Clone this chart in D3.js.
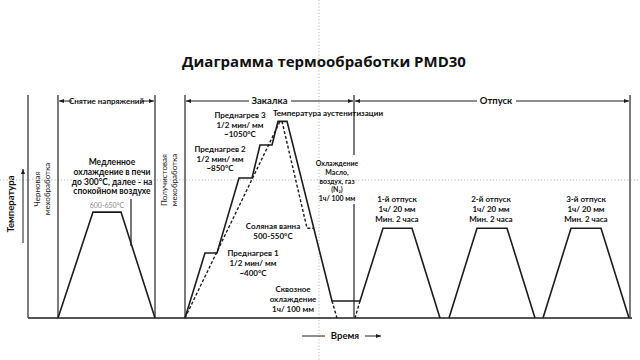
<!DOCTYPE html>
<html>
<head>
<meta charset="utf-8">
<script src="https://cdn.jsdelivr.net/npm/d3@7"></script>
<style>
  html, body { margin: 0; padding: 0; background: #fff; }
  svg { display: block; }
  text { font-family: Lato, "Open Sans", sans-serif; font-weight: 700; fill: #111; }
</style>
</head>
<body>
<svg id="chart" width="640" height="360"></svg>
<script>
// time is in schematic units, temperature in schematic °C
const title = "Диаграмма термообработки PMD30"
const axisLabels = ["Температура", "Время"]

const phaseNames = ["Снятие напряжений", "Закалка", "Отпуск"]
const phaseBounds = [[15, 63.5], [78.5, 163], [163, 301]]
const machining = [["Черновая", "мехобработка"], ["Получистовая", "мехобработка"]]
const machiningAt = [7.5, 71]

const stressRelief = [[15, 0], [32.5, 560], [46.5, 560], [63.5, 0]]
const hardening = [[78.5, 0], [88.5, 344], [94.5, 344], [105.5, 740], [112, 740], [116, 915], [122, 915],
    [125, 1040], [129.5, 1040], [152, 90], [166, 90], [177.5, 475], [192, 475], [206, 0]]
const temper2 = [[210.5, 0], [224.5, 475], [239.5, 475], [253.5, 0]]
const temper3 = [[257.5, 0], [271.5, 475], [286.5, 475], [300.5, 0]]
const directHeat = [[78.5, 0], [126, 1040]]
const directCool = [[127, 1040], [139.5, 475], [142.5, 475]]
const throughCool1 = [[152, 90], [154.5, 0]]
const throughCool2 = [[166, 90], [163.5, 0]]

const refTemp = 730
const refTime = 145.5

const preheat1 = ["Преднагрев 1", "1/2 мин/ мм", "~400°C"]
const preheat2 = ["Преднагрев 2", "1/2 мин/ мм", "~850°C"]
const preheat3 = ["Преднагрев 3", "1/2 мин/ мм", "~1050°C"]
const austenite = ["Температура аустенитизации"]
const saltBath = ["Соляная ванна", "500-550°C"]
const throughCool = ["Сквозное", "охлаждение", "1ч/ 100 мм"]
const quench = ["Охлаждение", "Масло,", "воздух, газ", "(N₂)", "1ч/ 100 мм"]
const slowCool = ["Медленное", "охлаждение в печи", "до 300°C, далее - на", "спокойном воздухе"]
const stressTemp = "600-650°C"
const temperNames = ["1-й отпуск", "2-й отпуск", "3-й отпуск"]
const temperCenters = [184.5, 231.5, 279]
const temperNote = ["1ч/ 20 мм", "Мин. 2 часа"]

const svg = d3.select("#chart")
const xScale = d3.scaleLinear().domain([0, 302]).range([28, 632])
const yScale = d3.scaleLinear().domain([0, 1100]).range([318, 110])
const ink = "#1c1c1c"
const bracketY = 101
const topY = 95

const line = d3.line().x(d => xScale(d[0])).y(d => yScale(d[1]))

// reference dotted lines
svg.append("line")
    .attr("x1", 0).attr("x2", 640)
    .attr("y1", yScale(refTemp)).attr("y2", yScale(refTemp))
    .attr("stroke", "#b8b8b8").attr("stroke-dasharray", "1.2,2")
svg.append("line")
    .attr("x1", xScale(refTime)).attr("x2", xScale(refTime))
    .attr("y1", 0).attr("y2", 360)
    .attr("stroke", "#b8b8b8").attr("stroke-dasharray", "1.2,2")

// arrow markers
const defs = svg.append("defs")
defs.append("marker").attr("id", "arr")
    .attr("viewBox", "0 0 10 10").attr("refX", 10).attr("refY", 5)
    .attr("markerWidth", 5).attr("markerHeight", 5).attr("orient", "auto")
    .append("path").attr("d", "M0,1L10,5L0,9z").attr("fill", ink)

// baseline
svg.append("line")
    .attr("x1", xScale(0)).attr("x2", xScale(302))
    .attr("y1", yScale(0)).attr("y2", yScale(0))
    .attr("stroke", ink).attr("stroke-width", 1.5)

// phase boundaries
const bounds = [0, 15, 63.5, 78.5, 301]
bounds.forEach(t => {
    svg.append("line")
        .attr("x1", xScale(t)).attr("x2", xScale(t))
        .attr("y1", topY).attr("y2", yScale(0))
        .attr("stroke", "#444").attr("stroke-width", 1.4)
})
// boundary between hardening and tempering, broken by the label
svg.append("line")
    .attr("x1", xScale(163)).attr("x2", xScale(163))
    .attr("y1", topY).attr("y2", 155)
    .attr("stroke", "#444").attr("stroke-width", 1.4)
svg.append("line")
    .attr("x1", xScale(163)).attr("x2", xScale(163))
    .attr("y1", 204).attr("y2", yScale(0))
    .attr("stroke", "#444").attr("stroke-width", 1.4)

// phase brackets
const phaseText = [[72, 141], [249, 291], [477, 516]]
phaseNames.forEach((name, i) => {
    const [a, b] = phaseBounds[i]
    const mid = (xScale(a) + xScale(b)) / 2
    svg.append("line")
        .attr("x1", phaseText[i][0]).attr("x2", xScale(a) + 1)
        .attr("y1", bracketY).attr("y2", bracketY)
        .attr("stroke", ink).attr("stroke-width", 1)
        .attr("marker-end", "url(#arr)")
    svg.append("line")
        .attr("x1", phaseText[i][1]).attr("x2", xScale(b) - 1)
        .attr("y1", bracketY).attr("y2", bracketY)
        .attr("stroke", ink).attr("stroke-width", 1)
        .attr("marker-end", "url(#arr)")
    svg.append("text")
        .attr("x", i == 2 ? mid + 4 : mid).attr("y", bracketY + 3)
        .attr("text-anchor", "middle")
        .attr("font-size", i == 0 ? 8 : 9.5)
        .text(name)
})

// curves
const solid = [stressRelief, hardening, temper2, temper3]
solid.forEach(d => {
    svg.append("path").datum(d)
        .attr("fill", "none").attr("stroke", ink).attr("stroke-width", 1.6)
        .attr("stroke-linejoin", "miter")
        .attr("d", line)
})
const dashed = [directHeat, directCool, throughCool1, throughCool2]
dashed.forEach(d => {
    svg.append("path").datum(d)
        .attr("fill", "none").attr("stroke", ink).attr("stroke-width", 1.4)
        .attr("stroke-dasharray", "3,2")
        .attr("d", line)
})

// multi line label helper
function label(lines, x, y, size, gap, color) {
    const t = svg.append("text")
        .attr("x", x).attr("y", y)
        .attr("text-anchor", "middle")
        .attr("font-size", size)
        .style("fill", color || "#111")
    lines.forEach((s, i) => {
        t.append("tspan").attr("x", x).attr("y", y + i * gap).text(s)
    })
    return t
}

label(slowCool, 112, 165, 8.5, 9.8)
label([stressTemp], xScale(39.5), 208, 7, 9, "#8a8a8a").style("font-weight", 400)
svg.append("line")
    .attr("x1", 131).attr("x2", 131)
    .attr("y1", 199).attr("y2", 246)
    .attr("stroke", ink).attr("stroke-width", 1.2)

label(preheat3, 240, 118, 8, 9.5)
label(preheat2, 220, 152, 8, 9.5)
label(preheat1, 253, 256, 8, 9.8)
label(austenite, 328, 116, 8, 9)
label(saltBath, 273, 229, 8, 9.5)
label(throughCool, 293, 292, 8, 9.8)
label(quench, 337, 166, 7, 8.8)

temperNames.forEach((name, i) => {
    label([name].concat(temperNote), xScale(temperCenters[i]), 202, 8, 10)
})

// rotated machining labels
machining.forEach((lines, i) => {
    const x = xScale(machiningAt[i])
    const cy = i == 0 ? 189 : 180
    const t = svg.append("text")
        .attr("transform", `translate(${x - 3},${cy}) rotate(-90)`)
        .attr("text-anchor", "middle")
        .attr("font-size", 8)
        .style("font-weight", 400)
        .style("fill", "#222")
    lines.forEach((s, j) => {
        t.append("tspan").attr("x", 0).attr("dy", j == 0 ? 0 : "1.3em").text(s)
    })
})

// y axis label with arrow
svg.append("text")
    .attr("transform", "translate(14,204) rotate(-90)")
    .attr("text-anchor", "middle")
    .attr("font-size", 9.5)
    .text(axisLabels[0])
svg.append("line")
    .attr("x1", 23).attr("x2", 23)
    .attr("y1", 243).attr("y2", 169)
    .attr("stroke", ink).attr("stroke-width", 1)
    .attr("marker-end", "url(#arr)")

// x axis label with arrow
svg.append("line")
    .attr("x1", 302).attr("x2", 325)
    .attr("y1", 336).attr("y2", 336)
    .attr("stroke", ink).attr("stroke-width", 1)
svg.append("text")
    .attr("x", 345).attr("y", 339)
    .attr("text-anchor", "middle")
    .attr("font-size", 9.5)
    .text(axisLabels[1])
svg.append("line")
    .attr("x1", 365).attr("x2", 381)
    .attr("y1", 336).attr("y2", 336)
    .attr("stroke", ink).attr("stroke-width", 1)
    .attr("marker-end", "url(#arr)")

// title
svg.append("text")
    .attr("x", 324).attr("y", 67)
    .attr("text-anchor", "middle")
    .style("font-family", "'Open Sans', sans-serif")
    .attr("font-size", 15)
    .text(title)
</script>
</body>
</html>
